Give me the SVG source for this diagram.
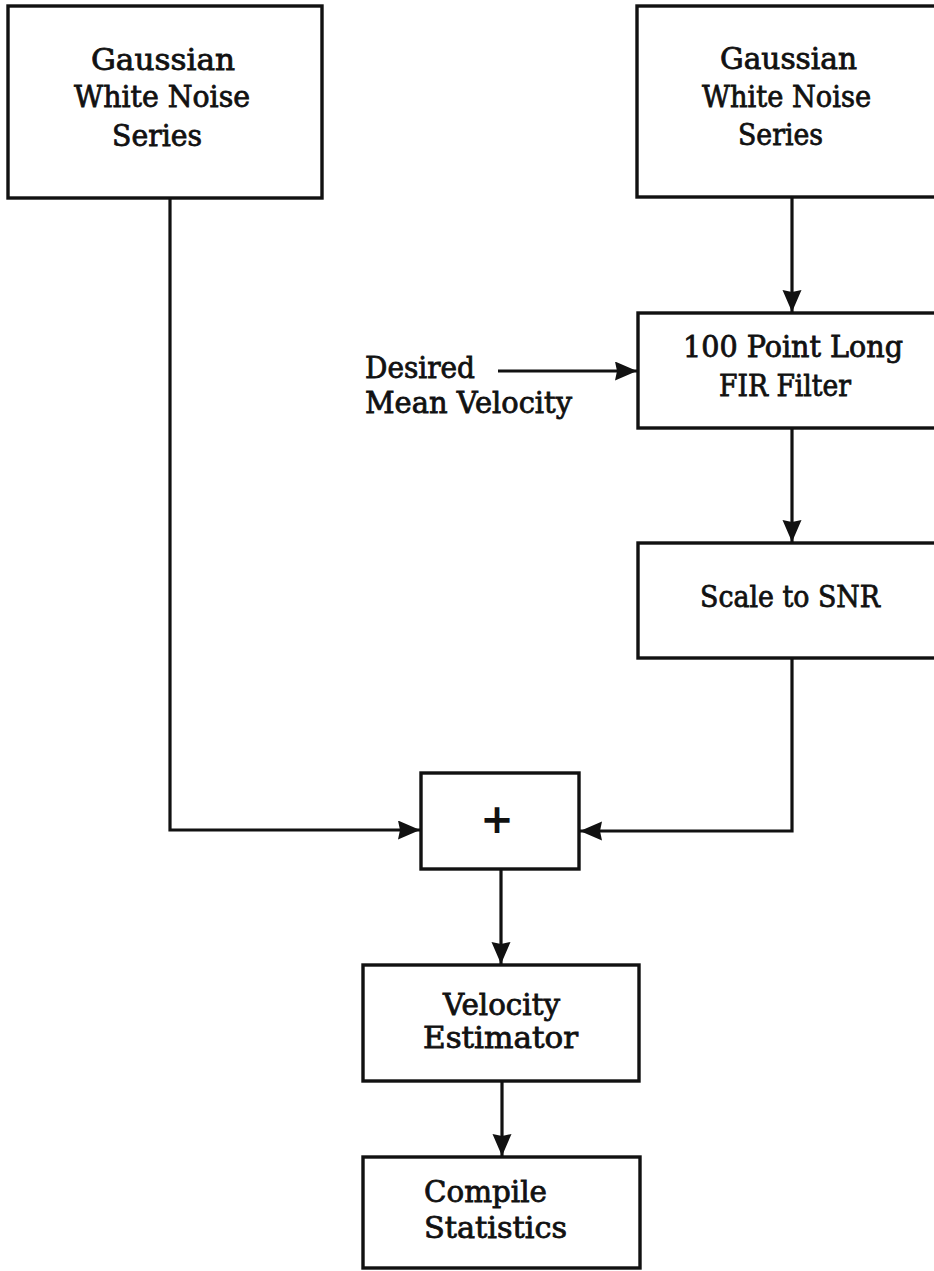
<svg xmlns="http://www.w3.org/2000/svg" width="934" height="1271" viewBox="0 0 934 1271">
<defs>
<style>
.box{fill:#fff;stroke:#111;stroke-width:3.4}
.con{fill:none;stroke:#111;stroke-width:3.2}
.t{font-family:"DejaVu Serif","Liberation Serif",serif;font-size:29px;fill:#111;stroke:#111;stroke-width:0.8}
</style>
<marker id="ah" markerUnits="userSpaceOnUse" markerWidth="24" markerHeight="20" refX="22" refY="9.5" orient="auto">
<path d="M0,0 L22,9.5 L0,19 L2,9.5 z" fill="#111"/>
</marker>
</defs>
<rect width="934" height="1271" fill="#fff"/>
<g id="connectors">
<path class="con" d="M170,198 V830 H420" marker-end="url(#ah)"/>
<path class="con" d="M792,197 V312" marker-end="url(#ah)"/>
<path class="con" d="M498,371 H637" marker-end="url(#ah)"/>
<path class="con" d="M792,428 V542" marker-end="url(#ah)"/>
<path class="con" d="M792,658 V831 H580" marker-end="url(#ah)"/>
<path class="con" d="M501,869 V964" marker-end="url(#ah)"/>
<path class="con" d="M502,1081 V1156" marker-end="url(#ah)"/>
</g>
<g id="noise1">
<rect class="box" x="8" y="6" width="314" height="192"/>
<text class="t" x="91" y="70" textLength="144" lengthAdjust="spacingAndGlyphs">Gaussian</text>
<text class="t" x="74" y="107" textLength="176" lengthAdjust="spacingAndGlyphs">White Noise</text>
<text class="t" x="112" y="146" textLength="90" lengthAdjust="spacingAndGlyphs">Series</text>
</g>
<g id="noise2">
<rect class="box" x="637" y="6" width="300" height="191"/>
<text class="t" x="720" y="69" textLength="137" lengthAdjust="spacingAndGlyphs">Gaussian</text>
<text class="t" x="702" y="107" textLength="169" lengthAdjust="spacingAndGlyphs">White Noise</text>
<text class="t" x="738" y="145" textLength="85" lengthAdjust="spacingAndGlyphs">Series</text>
</g>
<g id="desired">
<text class="t" x="365" y="378" textLength="110" lengthAdjust="spacingAndGlyphs">Desired</text>
<text class="t" x="365" y="413" textLength="207" lengthAdjust="spacingAndGlyphs">Mean Velocity</text>
</g>
<g id="fir">
<rect class="box" x="638" y="313" width="300" height="115"/>
<text class="t" x="683" y="357" textLength="220" lengthAdjust="spacingAndGlyphs">100 Point Long</text>
<text class="t" x="719" y="396" textLength="132" lengthAdjust="spacingAndGlyphs">FIR Filter</text>
</g>
<g id="scale">
<rect class="box" x="638" y="543" width="300" height="115"/>
<text class="t" x="700" y="607" textLength="180" lengthAdjust="spacingAndGlyphs">Scale to SNR</text>
</g>
<g id="sum">
<rect class="box" x="421" y="773" width="158" height="96"/>
<text x="497" y="833" text-anchor="middle" font-family="DejaVu Sans, sans-serif" font-size="40" font-weight="bold" fill="#111">+</text>
</g>
<g id="estimator">
<rect class="box" x="363" y="965" width="276" height="116"/>
<text class="t" x="443" y="1015" textLength="117" lengthAdjust="spacingAndGlyphs">Velocity</text>
<text class="t" x="423" y="1048" textLength="155" lengthAdjust="spacingAndGlyphs">Estimator</text>
</g>
<g id="statistics">
<rect class="box" x="363" y="1157" width="277" height="111"/>
<text class="t" x="424" y="1202" textLength="123" lengthAdjust="spacingAndGlyphs">Compile</text>
<text class="t" x="424" y="1238" textLength="143" lengthAdjust="spacingAndGlyphs">Statistics</text>
</g>
</svg>
